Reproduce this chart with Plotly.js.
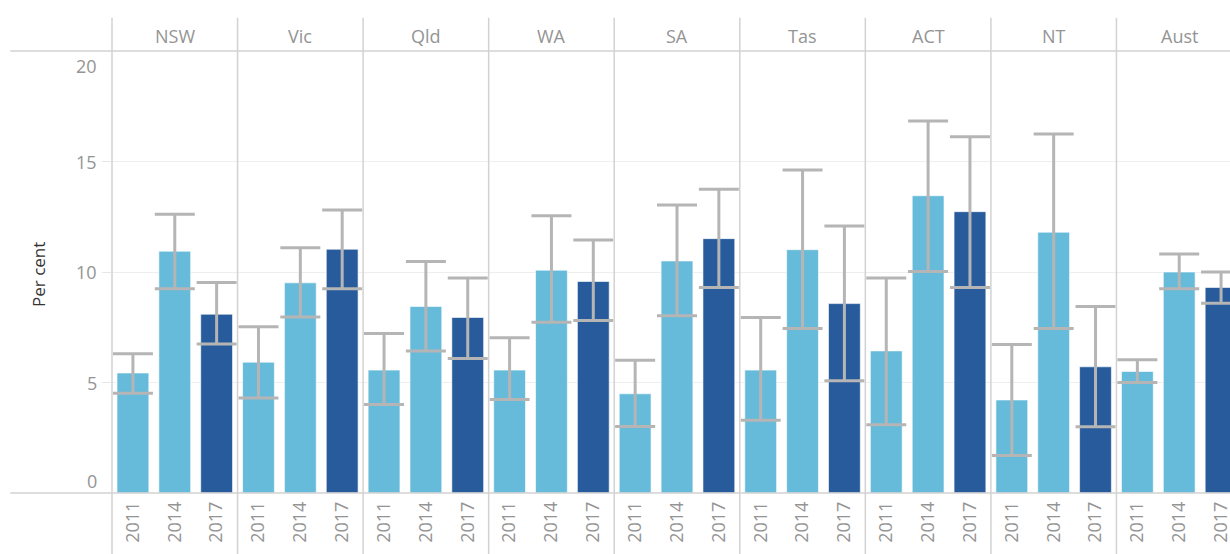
<!DOCTYPE html>
<html>
<head>
<meta charset="utf-8">
<script src="https://cdn.plot.ly/plotly-3.0.1.min.js"></script>
<style>
html,body{margin:0;padding:0;overflow:hidden;background:#fff;}
#chart{width:1250px;height:554px;}
</style>
</head>
<body>
<div id="chart"></div>
<script>
// ---- data ----
var regions = ['NSW','Vic','Qld','WA','SA','Tas','ACT','NT','Aust'];
var years = ['2011','2014','2017'];

var v2011  = [5.43, 5.92, 5.56, 5.56, 4.49, 5.56, 6.43, 4.21, 5.50];
var lo2011 = [4.51, 4.30, 4.01, 4.23, 3.01, 3.29, 3.09, 1.70, 5.00];
var hi2011 = [6.30, 7.52, 7.22, 7.02, 6.01, 7.94, 9.73, 6.72, 6.03];

var v2014  = [10.94, 9.51, 8.44, 10.08, 10.50, 11.01, 13.45, 11.80, 10.00];
var lo2014 = [9.24, 7.96, 6.43, 7.73, 8.02, 7.44, 10.02, 7.44, 9.24];
var hi2014 = [12.61, 11.10, 10.47, 12.55, 13.03, 14.61, 16.83, 16.25, 10.82];

var v2017  = [8.09, 11.03, 7.94, 9.57, 11.51, 8.57, 12.73, 5.71, 9.30];
var lo2017 = [6.74, 9.24, 6.09, 7.80, 9.30, 5.08, 9.30, 3.00, 8.59];
var hi2017 = [9.52, 12.81, 9.73, 11.45, 13.74, 12.08, 16.12, 8.44, 10.00];

var yTicks = [0, 5, 10, 15, 20];
var yTitle = 'Per cent';

// ---- build ----
var values = [v2011, v2014, v2017];
var lows = [lo2011, lo2014, lo2017];
var highs = [hi2011, hi2014, hi2017];
var colors = ['#66bbda', '#66bbda', '#275b9b'];
var nY = years.length, nR = regions.length;
var FONT = '"Open Sans", "Noto Sans", sans-serif';
var LABEL = '#949494';

var traces = years.map(function(yr, j){
  var xs = regions.map(function(r, i){ return i*nY + j; });
  return {
    type: 'bar',
    name: yr,
    x: xs,
    y: values[j],
    width: 0.76,
    marker: {color: colors[j], line: {color: 'rgba(255,255,255,0.6)', width: 1}},
    error_y: {
      type: 'data', symmetric: false,
      array: values[j].map(function(v, i){ return highs[j][i] - v; }),
      arrayminus: values[j].map(function(v, i){ return v - lows[j][i]; }),
      color: '#b5b5b5', thickness: 3, width: 20
    },
    hoverinfo: 'x+y'
  };
});

var tickvals = [], ticktext = [];
regions.forEach(function(r, i){ years.forEach(function(y, j){ tickvals.push(i*nY+j); ticktext.push(y); }); });

var shapes = [];
var divColor = '#d2d2d2';
for (var i = 0; i <= nR; i++) {
  shapes.push({type:'line', xref:'paper', yref:'paper', x0:i/nR, x1:i/nR, y0:-0.14, y1:1.075,
    line:{color:divColor, width:1.5}, layer:'above'});
}
shapes.push({type:'line', xref:'paper', yref:'paper', x0:-0.09, x1:1, y0:1, y1:1, line:{color:divColor, width:1.5}});
shapes.push({type:'line', xref:'paper', yref:'paper', x0:-0.09, x1:1, y0:0, y1:0, line:{color:divColor, width:1.5}});

var annotations = [];
regions.forEach(function(r, i){
  annotations.push({text: r, xref:'x', yref:'paper', x: i*nY + (nY-1)/2, y: 1, yshift: 15,
    showarrow:false, xanchor:'center', yanchor:'middle', font:{family:FONT, size:18, color:LABEL}});
});
yTicks.forEach(function(t, k){
  var ys = 0;
  if (k === 0) ys = 12;
  if (k === yTicks.length-1) ys = -15;
  annotations.push({text: String(t), xref:'paper', yref:'y', x: 0, y: t, xshift: -13, yshift: ys,
    showarrow:false, xanchor:'right', yanchor:'middle', font:{family:FONT, size:18, color:LABEL}});
});
annotations.push({text: yTitle, xref:'paper', yref:'paper', x:0, y:0.5, xshift:-74, yshift:-3, textangle:-90,
  showarrow:false, xanchor:'center', yanchor:'middle', font:{family:FONT, size:17, color:'#333333'}});

var layout = {
  width: 1250, height: 554,
  margin: {l:112, r:8, t:51, b:61},
  paper_bgcolor:'#ffffff', plot_bgcolor:'#ffffff',
  showlegend:false,
  barmode:'overlay',
  font:{family:FONT, color:LABEL},
  xaxis: {
    range:[-0.5, nR*nY-0.5], tickmode:'array', tickvals:tickvals, ticktext:ticktext,
    tickangle:-90, tickfont:{family:FONT, size:18, color:LABEL},
    showgrid:false, zeroline:false, showline:false, ticks:'', ticklabelstandoff:4, fixedrange:true
  },
  yaxis: {
    range:[0,20], tickmode:'array', tickvals:[5,10,15], showticklabels:false,
    showgrid:true, gridcolor:'#eeeeee', gridwidth:1, zeroline:false, showline:false,
    ticks:'outside', ticklen:9, tickcolor:'#e6e6e6', fixedrange:true
  },
  shapes: shapes,
  annotations: annotations
};

Plotly.newPlot('chart', traces, layout, {displayModeBar:false, staticPlot:true});
</script>
</body>
</html>
